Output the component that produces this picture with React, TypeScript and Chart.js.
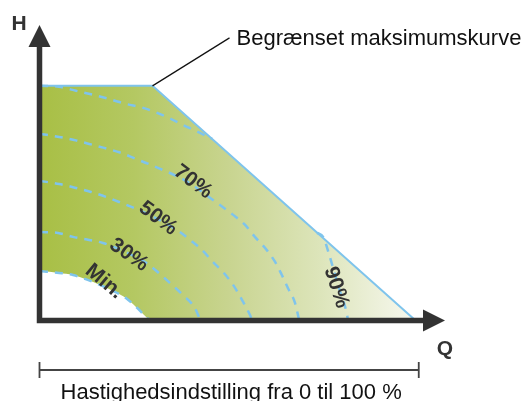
import React, { useEffect, useRef } from 'react';
import { Chart, registerables } from 'chart.js';

Chart.register(...registerables);

// ---- data (Q = flow, H = head; 100 = maximum) ----
const maxCurveQ = [0, 30, 100];
const maxCurveH = [100, 100, 0];

const minQ = [0, 5.1, 8.8, 16, 20, 22.9, 25.6, 28.3, 29.1];
const minH = [20.9, 20.1, 19.2, 15.0, 12.0, 9.4, 5.6, 1.3, 0];

const c30Q = [0, 4.8, 8.8, 13.1, 16.8, 22.7, 28.3, 34.4, 38.1, 41.3, 42.7];
const c30H = [37.6, 37.2, 35.5, 34.2, 32.9, 29.1, 24.4, 16.2, 10.7, 5.1, 0];

const c50Q = [0, 5.1, 9.6, 13.6, 17.6, 21.1, 29.3, 37.3, 40, 43.2, 46.1, 48.8, 51.5, 53.9, 56, 56.5];
const c50H = [59.4, 58.1, 56.4, 54.7, 52.6, 50.4, 44.8, 37.6, 34.2, 29.9, 24.8, 20.5, 15.0, 8.5, 2.1, 0];

const c70Q = [0, 5.1, 9.1, 13.1, 17.1, 21.6, 25.6, 29.6, 38.9, 47.2, 51.5, 54.7, 57.3, 60, 62.7, 64.5, 66.1, 68, 69.1];
const c70H = [79.5, 78.2, 76.9, 75.2, 73.5, 71.4, 68.8, 66.2, 59.4, 50, 44.9, 40.6, 35.5, 30.8, 24.8, 19.2, 13.7, 7.3, 0];

const c90Q = [0, 5.1, 9.6, 14.1, 18.4, 22.9, 27.5, 34.4, 38.1, 42.7, 45.9, 60, 73.9, 75.5, 77.3, 79.7, 81.9, 82.1];
const c90H = [100, 99.6, 97.9, 96.2, 94.4, 92.3, 90.6, 86.3, 83.3, 79.9, 77.4, null, 37.2, 35.5, 26.9, 13.7, 2.1, 0];

const curveLabels = ['Min.', '30%', '50%', '70%', '90%'];
const labelQ = [17.1, 23.7, 31.5, 40.8, 79.0];
const labelH = [16.4, 27.8, 43.4, 59, 13.9];
const labelAngle = [40, 35, 37, 37, 72];

const axisTitleH = 'H';
const axisTitleQ = 'Q';
const maxCurveText = 'Begrænset maksimumskurve';
const rangeText = 'Hastighedsindstilling fra 0 til 100 %';
const rangeEndQ = 101;

const Q_MAX = 108;
const H_MAX = 126;

// ---- styles ----
const FONT = '"Liberation Sans", Arial, Helvetica, sans-serif';
const DARK = '#333333';
const BLUE = '#7fc4ec';

const pts = (q: number[], h: (number | null)[]) => q.map((x, i) => ({ x, y: h[i] }));

const overlay = {
  id: 'overlay',
  afterDatasetsDraw(chart: any) {
    const { ctx, scales } = chart;
    const X = (v: number) => scales.x.getPixelForValue(v);
    const Y = (v: number) => scales.y.getPixelForValue(v);
    ctx.save();

    // curve labels
    ctx.fillStyle = DARK;
    ctx.font = `bold 21px ${FONT}`;
    ctx.textAlign = 'center';
    ctx.textBaseline = 'middle';
    curveLabels.forEach((t, i) => {
      ctx.save();
      ctx.translate(X(labelQ[i]), Y(labelH[i]));
      ctx.rotate((labelAngle[i] * Math.PI) / 180);
      ctx.fillText(t, 0, 0);
      ctx.restore();
    });

    // axes
    const ox = X(0) - 0.5;
    const oy = Y(0) + 0.5;
    const lw = 5.5;
    const topY = Y(H_MAX);
    const rightX = X(Q_MAX);
    ctx.strokeStyle = DARK;
    ctx.fillStyle = DARK;
    ctx.lineWidth = lw;
    ctx.beginPath();
    ctx.moveTo(ox, oy + lw / 2);
    ctx.lineTo(ox, topY + 20);
    ctx.moveTo(ox - lw / 2, oy);
    ctx.lineTo(rightX - 20, oy);
    ctx.stroke();
    // arrow heads
    ctx.beginPath();
    ctx.moveTo(ox, topY);
    ctx.lineTo(ox + 11, topY + 22);
    ctx.lineTo(ox - 11, topY + 22);
    ctx.closePath();
    ctx.fill();
    ctx.beginPath();
    ctx.moveTo(rightX, oy);
    ctx.lineTo(rightX - 22, oy - 11);
    ctx.lineTo(rightX - 22, oy + 11);
    ctx.closePath();
    ctx.fill();

    // axis titles
    ctx.font = `bold 21px ${FONT}`;
    ctx.textBaseline = 'alphabetic';
    ctx.textAlign = 'center';
    ctx.fillText(axisTitleH, ox - 20.5, topY + 5);
    ctx.fillText(axisTitleQ, rightX, oy + 34);

    // leader line + max curve text
    const kx = X(maxCurveQ[1]);
    const ky = Y(maxCurveH[1]);
    ctx.strokeStyle = '#111111';
    ctx.lineWidth = 1.2;
    ctx.beginPath();
    ctx.moveTo(kx, ky);
    ctx.lineTo(kx + 77, ky - 48);
    ctx.stroke();
    ctx.fillStyle = '#111111';
    ctx.font = `22px ${FONT}`;
    ctx.textAlign = 'left';
    ctx.fillText(maxCurveText, kx + 84, ky - 41);

    // range bracket
    const by = oy + 49.5;
    const bx1 = ox;
    const bx2 = X(rangeEndQ);
    ctx.strokeStyle = '#444444';
    ctx.lineWidth = 1.8;
    ctx.beginPath();
    ctx.moveTo(bx1, by);
    ctx.lineTo(bx2, by);
    ctx.moveTo(bx1, by - 8);
    ctx.lineTo(bx1, by + 8);
    ctx.moveTo(bx2, by - 8);
    ctx.lineTo(bx2, by + 8);
    ctx.stroke();
    ctx.fillStyle = '#111111';
    ctx.textAlign = 'center';
    ctx.fillText(rangeText, (bx1 + bx2) / 2 + 2, by + 29);

    ctx.restore();
  },
};

export default function App() {
  const ref = useRef<HTMLCanvasElement | null>(null);
  useEffect(() => {
    if (!ref.current) return;
    const dashed = (label: string, q: number[], h: (number | null)[]) => ({
      label,
      data: pts(q, h),
      showLine: true,
      borderColor: BLUE,
      borderWidth: 2.5,
      borderDash: [8, 7],
      pointRadius: 0,
      fill: false,
      cubicInterpolationMode: 'monotone' as const,
      spanGaps: false,
      order: 1,
    });
    const chart = new Chart(ref.current, {
      type: 'scatter',
      data: {
        datasets: [
          {
            label: 'max',
            data: pts(maxCurveQ, maxCurveH),
            showLine: true,
            borderColor: BLUE,
            borderWidth: 2,
            pointRadius: 0,
            fill: 'origin',
            order: 3,
            backgroundColor: (c: any) => {
              const ch = c.chart;
              const { chartArea } = ch;
              if (!chartArea) return '#c0d07a';
              const x0 = ch.scales.x.getPixelForValue(0);
              const x1 = ch.scales.x.getPixelForValue(100);
              const g = ch.ctx.createLinearGradient(x0, 0, x1, 0);
              g.addColorStop(0, '#a8bf45');
              g.addColorStop(0.25, '#b4c862');
              g.addColorStop(0.5, '#c8d48f');
              g.addColorStop(0.75, '#dde5bb');
              g.addColorStop(1, '#f7f8ef');
              return g;
            },
          },
          {
            label: 'min',
            data: pts(minQ, minH),
            showLine: true,
            borderColor: BLUE,
            borderWidth: 2.5,
            borderDash: [8, 7],
            pointRadius: 0,
            fill: 'origin',
            backgroundColor: '#ffffff',
            cubicInterpolationMode: 'monotone',
            order: 2,
          },
          dashed('30%', c30Q, c30H),
          dashed('50%', c50Q, c50H),
          dashed('70%', c70Q, c70H),
          dashed('90%', c90Q, c90H),
        ] as any,
      },
      options: {
        animation: false,
        responsive: true,
        maintainAspectRatio: false,
        layout: { padding: { left: 40, top: 25, right: 80, bottom: 81 } },
        scales: {
          x: { type: 'linear', min: 0, max: Q_MAX, display: false },
          y: { type: 'linear', min: 0, max: H_MAX, display: false },
        },
        plugins: { legend: { display: false }, tooltip: { enabled: false } },
      },
      plugins: [overlay],
    });
    return () => chart.destroy();
  }, []);
  return (
    <div style={{ position: 'absolute', left: 0, top: 0, width: 525, height: 401, background: '#ffffff' }}>
      <canvas ref={ref} />
    </div>
  );
}
